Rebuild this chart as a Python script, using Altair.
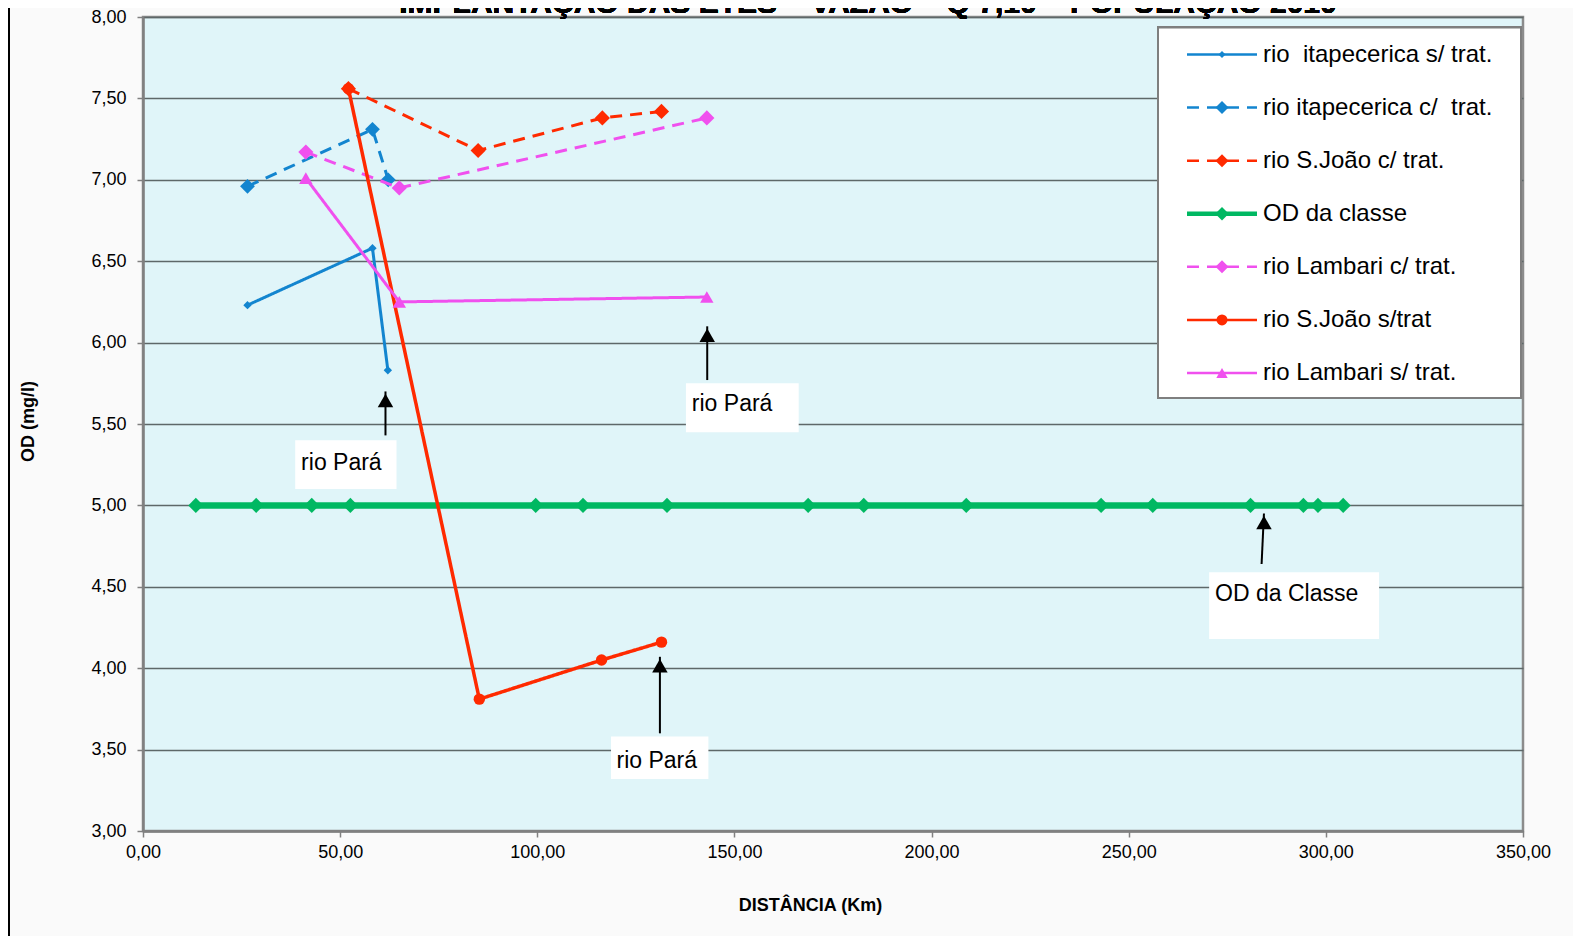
import altair as alt
import pandas as pd

# ---------------- data ----------------
series_names = [
    "rio \u00a0itapecerica s/ trat.",
    "rio itapecerica c/ \u00a0trat.",
    "rio S.João c/ trat.",
    "OD da classe",
    "rio Lambari c/ trat.",
    "rio S.João s/trat",
    "rio Lambari s/ trat.",
]

itap_s_km = [26.5, 58.2, 62.1]
itap_s_od = [6.23, 6.58, 5.83]

itap_c_km = [26.5, 58.2, 62.2]
itap_c_od = [6.96, 7.31, 7.00]

sjoao_c_km = [52.1, 85.0, 116.5, 131.5]
sjoao_c_od = [7.56, 7.18, 7.38, 7.42]

od_km = [13.4, 28.7, 42.8, 52.6, 99.6, 111.6, 132.9, 168.7, 182.8, 208.8,
         243.0, 256.1, 280.9, 294.3, 298.0, 304.4]
od_od = [5.00] * len(od_km)

lamb_c_km = [41.3, 65.0, 143.0]
lamb_c_od = [7.17, 6.95, 7.38]

sjoao_s_km = [52.1, 85.3, 116.3, 131.5]
sjoao_s_od = [7.56, 3.81, 4.05, 4.16]

lamb_s_km = [41.3, 65.0, 143.0]
lamb_s_od = [7.01, 6.25, 6.28]

series_km = [itap_s_km, itap_c_km, sjoao_c_km, od_km, lamb_c_km, sjoao_s_km, lamb_s_km]
series_od = [itap_s_od, itap_c_od, sjoao_c_od, od_od, lamb_c_od, sjoao_s_od, lamb_s_od]

x_ticks = [0, 50, 100, 150, 200, 250, 300, 350]
y_ticks = [3.0, 3.5, 4.0, 4.5, 5.0, 5.5, 6.0, 6.5, 7.0, 7.5, 8.0]

# annotations (arrows + labels), in data units
ann_text = ["rio Pará", "rio Pará", "rio Pará", "OD da Classe"]
ann_tip_km = [61.5, 143.1, 131.1, 284.3]
ann_base_km = [61.5, 143.1, 131.1, 283.7]
ann_tip_od = [5.70, 6.10, 4.07, 4.95]
ann_base_od = [5.43, 5.77, 3.60, 4.64]
box_km0 = [38.6, 137.7, 118.7, 270.4]
box_km1 = [64.3, 166.3, 143.4, 313.5]
box_od0 = [5.40, 5.75, 3.58, 4.59]
box_od1 = [5.10, 5.45, 3.32, 4.18]
text_km = [40.1, 139.2, 120.1, 271.9]
text_od = [5.22, 5.58, 3.39, 4.41]

title_text = "IMPLANTAÇÃO DAS ETES – VAZÃO – Q 7,10 – POPULAÇÃO 2010"

# ---------------- styles ----------------
colors = ["#1385CF", "#1385CF", "#FF2A00", "#00B862", "#F050EE", "#FF2A00", "#F050EE"]
dashes = [[1, 0], [12, 8], [12, 8], [1, 0], [12, 8], [1, 0], [1, 0]]
shapes = ["diamond", "diamond", "diamond", "diamond", "diamond", "circle", "triangle-up"]
sizes = [70, 220, 230, 230, 230, 130, 180]
widths = [3, 3, 3, 6.5, 3, 3.5, 3]
leg_sizes = [50, 170, 170, 180, 170, 120, 130]
leg_widths = [2.5, 2.5, 2.5, 4.5, 2.5, 2.5, 2.5]

FONT = "Liberation Sans"
W, H = 1380, 814

color_enc = alt.Color("series:N", scale=alt.Scale(domain=series_names, range=colors), legend=None)
dash_enc = alt.StrokeDash("series:N", scale=alt.Scale(domain=series_names, range=dashes), legend=None)
shape_enc = alt.Shape("series:N", scale=alt.Scale(domain=series_names, range=shapes), legend=None)

label_expr = "replace(format(datum.value, '.2f'), '.', ',')"

x_enc = alt.X(
    "km:Q",
    scale=alt.Scale(domain=[0, 350], nice=False, zero=False),
    axis=alt.Axis(
        values=x_ticks, labelExpr=label_expr, grid=False, labelFlush=False,
        title="DISTÂNCIA (Km)", titleX=667, titleY=74,
        titleBaseline="middle", titleAlign="center",
    ),
)
y_enc = alt.Y(
    "od:Q",
    scale=alt.Scale(domain=[3, 8], nice=False, zero=False),
    axis=alt.Axis(
        values=y_ticks, labelExpr=label_expr, grid=True, labelFlush=False,
        title="OD (mg/l)", titleX=-115, titleY=404,
        titleBaseline="middle", titleAlign="center", titleAngle=270,
    ),
)

layers = []
for i, (name, km, od) in enumerate(zip(series_names, series_km, series_od)):
    d = pd.DataFrame({"series": name, "km": km, "od": od})
    layers.append(
        alt.Chart(d).mark_line(strokeWidth=widths[i]).encode(
            x=x_enc, y=y_enc, color=color_enc, strokeDash=dash_enc
        )
    )
    layers.append(
        alt.Chart(d).mark_point(filled=True, opacity=1, size=sizes[i]).encode(
            x=x_enc, y=y_enc, color=color_enc, shape=shape_enc
        )
    )

ann = pd.DataFrame({
    "text": ann_text,
    "tip_km": ann_tip_km, "base_km": ann_base_km,
    "tip_od": ann_tip_od, "base_od": ann_base_od,
    "bx0": box_km0, "bx1": box_km1, "by0": box_od0, "by1": box_od1,
    "tx": text_km, "ty": text_od,
})

xs = alt.Scale(domain=[0, 350], nice=False, zero=False)
ys = alt.Scale(domain=[3, 8], nice=False, zero=False)

boxes = alt.Chart(ann).mark_rect(fill="white").encode(
    x=alt.X("bx0:Q", scale=xs), x2="bx1:Q",
    y=alt.Y("by0:Q", scale=ys), y2="by1:Q",
)
arrows = alt.Chart(ann).mark_rule(color="black", strokeWidth=2).encode(
    x=alt.X("base_km:Q", scale=xs), x2="tip_km:Q",
    y=alt.Y("base_od:Q", scale=ys), y2="tip_od:Q",
)
heads = alt.Chart(ann).mark_point(
    shape="triangle-up", filled=True, color="black", opacity=1, size=240, yOffset=9
).encode(
    x=alt.X("tip_km:Q", scale=xs), y=alt.Y("tip_od:Q", scale=ys),
)
ann_labels = alt.Chart(ann).mark_text(
    align="left", baseline="alphabetic", fontSize=23, font=FONT, color="black"
).encode(
    x=alt.X("tx:Q", scale=xs), y=alt.Y("ty:Q", scale=ys), text="text:N",
)

main = alt.layer(*layers, boxes, arrows, heads, ann_labels)

# ---------------- legend (own y scale) ----------------
leg = pd.DataFrame({"series": series_names})
leg_y = alt.Y("series:N", scale=alt.Scale(type="point", domain=series_names, range=[37.5, 356], padding=0), axis=None)

leg_box = alt.Chart(leg).mark_rect(fill="white", stroke="#7F7F7F", strokeWidth=2).encode(
    x=alt.value(1015), x2=alt.value(1378), y=alt.value(10.5), y2=alt.value(381)
)
leg_layers = [leg_box]
for i, name in enumerate(series_names):
    row = pd.DataFrame({"series": [name]})
    leg_layers.append(
        alt.Chart(row).mark_rule(strokeWidth=leg_widths[i]).encode(
            x=alt.value(1044), x2=alt.value(1114), y=leg_y,
            color=color_enc, strokeDash=dash_enc,
        )
    )
    leg_layers.append(
        alt.Chart(row).mark_point(filled=True, opacity=1, size=leg_sizes[i]).encode(
            x=alt.value(1079), y=leg_y, color=color_enc, shape=shape_enc,
        )
    )
leg_text = alt.Chart(leg).mark_text(
    align="left", baseline="middle", fontSize=24, font=FONT, color="black"
).encode(x=alt.value(1120), y=leg_y, text="series:N")

title = alt.Chart(leg).mark_text(
    text=title_text, align="center", baseline="alphabetic", fontSize=30,
    fontWeight="bold", font=FONT, color="black"
).encode(x=alt.value(725), y=alt.value(-4))

frame = alt.Chart(leg).mark_rule(color="black", strokeWidth=2).encode(
    x=alt.value(-134), y=alt.value(-20), y2=alt.value(930)
)

legend = alt.layer(*leg_layers, leg_text, title, frame)

chart = (
    alt.layer(main, legend)
    .resolve_scale(y="independent")
    .properties(
        width=W, height=H, autosize="none",
        padding={"left": 135, "top": 9, "right": 50, "bottom": 105},
        background="#FAFAFA",
    )
    .configure_view(fill="#E0F5F9", stroke="#8C8C8C", strokeWidth=2.5)
    .configure_axis(
        labelFont=FONT, labelFontSize=18, labelColor="black",
        titleFont=FONT, titleFontSize=18, titleFontWeight="bold", titleColor="black",
        tickColor="#808080", tickSize=6, tickWidth=1.5,
        domainColor="#808080", domainWidth=2.5,
        gridColor="#5E6869", gridWidth=1.5, gridOpacity=1,
    )
    .configure_axisX(labelPadding=6)
    .configure_axisY(labelPadding=11)
)

chart.save("out.html", embed_options={"renderer": "svg", "actions": False})
